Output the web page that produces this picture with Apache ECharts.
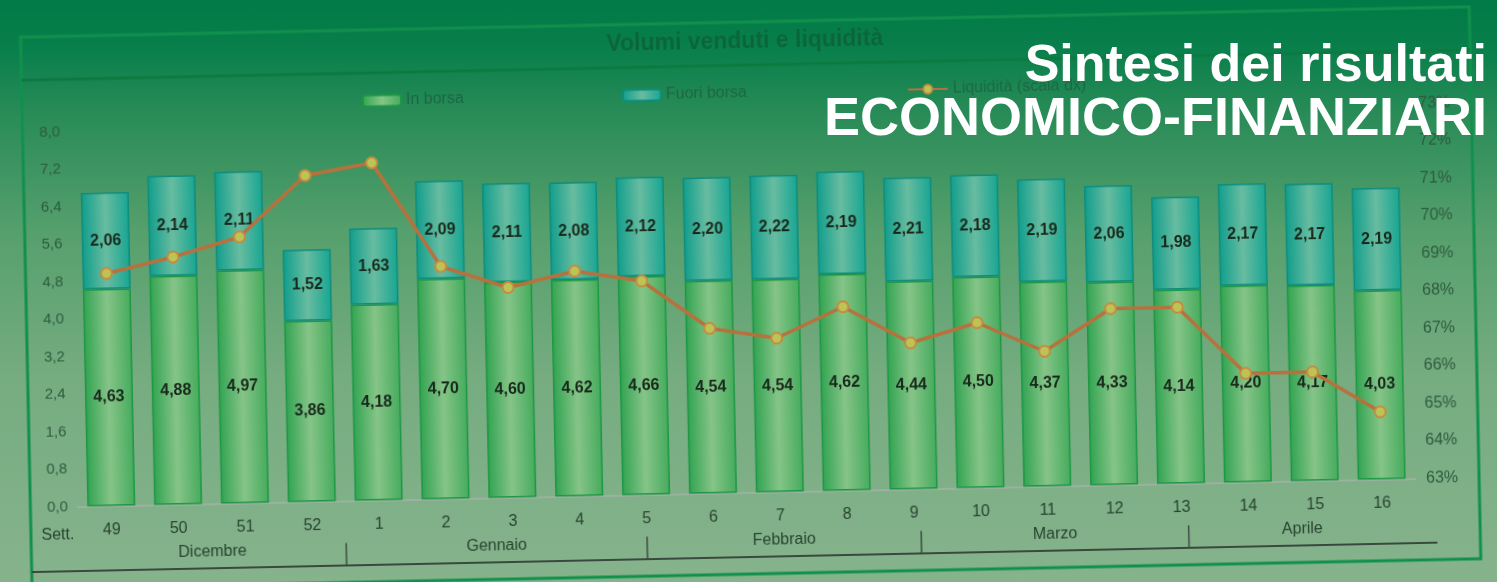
<!DOCTYPE html>
<html><head><meta charset="utf-8">
<script src="https://cdn.jsdelivr.net/npm/echarts/dist/echarts.min.js"></script>
<style>
html,body{margin:0;padding:0;width:1497px;height:582px;overflow:hidden;
background:linear-gradient(to bottom,#007a46 0%,#0a804c 9%,#2a8c58 20%,#56a06d 40%,#76ac80 65%,#86b38c 100%);}
#chart{position:absolute;left:0;top:0;width:1497px;height:582px;transform:rotate(-1.2deg);transform-origin:50% 50%;}
#overlay{position:absolute;left:0;top:0;width:1497px;height:582px;pointer-events:none;}
</style></head><body>
<div id="chart"></div><div id="overlay"></div>
<script>
const weeks = ['49','50','51','52','1','2','3','4','5','6','7','8','9','10','11','12','13','14','15','16'];
const inBorsa = [4.63,4.88,4.97,3.86,4.18,4.70,4.60,4.62,4.66,4.54,4.54,4.62,4.44,4.50,4.37,4.33,4.14,4.20,4.17,4.03];
const fuoriBorsa = [2.06,2.14,2.11,1.52,1.63,2.09,2.11,2.08,2.12,2.20,2.22,2.19,2.21,2.18,2.19,2.06,1.98,2.17,2.17,2.19];
const liquidita = [69.2,69.6,70.1,71.7,72.0,69.2,68.6,69.0,68.7,67.4,67.1,67.9,66.9,67.4,66.6,67.7,67.7,65.9,65.9,64.8];
const months = ['Dicembre','Gennaio','Febbraio','Marzo','Aprile'];
const monthStart = [-0.5,3.5,8.0,12.1,16.1];
const monthEnd = [3.5,8.0,12.1,16.1,19.5];
const seriesNames = ['In borsa','Fuori borsa','Liquidità (scala dx)'];
const chartTitle = 'Volumi venduti e liquidità';
const rowLabel = 'Sett.';
const overlayLines = ['Sintesi dei risultati','ECONOMICO-FINANZIARI'];

const FONT = '"Liberation Sans", Arial, sans-serif';
const fmt = (v, d) => Number(v).toFixed(d).replace('.', ',');
const grad = (a, b, c) => new echarts.graphic.LinearGradient(0,0,1,0,[{offset:0,color:a},{offset:0.5,color:b},{offset:1,color:c}]);
const labelStyle = {show:true, position:'inside', fontSize:16, fontWeight:'bold', color:'#18291c', fontFamily:FONT, textBorderWidth:0, formatter:p=>fmt(p.value,2)};
const legendText = {fontSize:16, color:'#1c6642', fontFamily:FONT};

const chart = echarts.init(document.getElementById('chart'), null, {renderer:'canvas'});
chart.setOption({
  animation:false,
  backgroundColor:'transparent',
  grid:{left:73.5, right:86, top:117.5, bottom:89.5, containLabel:false},
  legend:[
    {data:[seriesNames[0]], left:361, top:80, itemWidth:38, itemHeight:11, textStyle:legendText},
    {data:[seriesNames[1]], left:621, top:80, itemWidth:38, itemHeight:11, textStyle:legendText},
    {data:[seriesNames[2]], left:906, top:80, itemWidth:40, itemHeight:11, textStyle:legendText}
  ],
  xAxis:[
    {type:'category', data:weeks,
     axisLine:{lineStyle:{color:'#a3b3a6', width:1.5}},
     axisTick:{length:5, lineStyle:{color:'#a3b3a6'}},
     axisLabel:{margin:16, fontSize:16, color:'#27432f', fontFamily:FONT}},
    {type:'value', min:-0.5, max:19.5, show:false}
  ],
  yAxis:[
    {type:'value', min:0, max:8, interval:0.8, splitLine:{show:false}, axisLine:{show:false}, axisTick:{show:false},
     axisLabel:{margin:10, fontSize:15, color:'#2d5a3c', fontFamily:FONT, formatter:v=>fmt(v,1)}},
    {type:'value', min:63, max:73, interval:1, splitLine:{show:false}, axisLine:{show:false}, axisTick:{show:false},
     axisLabel:{margin:11, fontSize:16, color:'#2d5a3c', fontFamily:FONT, formatter:v=>Math.round(v)+'%'}}
  ],
  series:[
    {name:seriesNames[0], type:'bar', stack:'tot', data:inBorsa, barWidth:48,
     itemStyle:{color:grad('#30a350','#86c488','#44ab5c'), borderColor:'#1c9745', borderWidth:1.5},
     label:labelStyle},
    {name:seriesNames[1], type:'bar', stack:'tot', data:fuoriBorsa, barWidth:48,
     itemStyle:{color:grad('#0f9d8c','#68bca0','#16a592'), borderColor:'#0e8c7d', borderWidth:1.5},
     label:labelStyle},
    {name:seriesNames[2], type:'line', yAxisIndex:1, data:liquidita, z:5,
     symbol:'circle', symbolSize:11,
     lineStyle:{color:'#b8703c', width:3.5},
     itemStyle:{color:'#bcc458', borderColor:'#c68a3e', borderWidth:2}},
    {type:'custom', xAxisIndex:1, yAxisIndex:0, silent:true, z:3,
     data:months.map((m,i)=>[monthStart[i], monthEnd[i]]),
     encode:{x:[0,1]},
     renderItem:(params, api)=>{
       const s = api.coord([api.value(0), 0]);
       const e = api.coord([api.value(1), 0]);
       const base = s[1];
       const ch = [{type:'text', style:{x:(s[0]+e[0])/2, y:base+48, text:months[params.dataIndex], align:'center', verticalAlign:'middle', fill:'#27432f', font:'16px '+FONT}}];
       if (params.dataIndex > 0) ch.push({type:'line', shape:{x1:s[0], y1:base+42, x2:s[0], y2:base+64}, style:{stroke:'#3b4b40', lineWidth:1.5}});
       return {type:'group', children:ch};
     }}
  ],
  graphic:[
    {type:'rect', silent:true, z:-10, shape:{x:26, y:22, width:1449, height:552}, style:{fill:'none', stroke:'#10904c', lineWidth:3}},
    {type:'line', silent:true, shape:{x1:26, y1:65, x2:1475, y2:65}, style:{stroke:'#0c7a40', lineWidth:3}},
    {type:'line', silent:true, shape:{x1:26, y1:557, x2:1432, y2:557}, style:{stroke:'#39493d', lineWidth:2}},
    {type:'text', silent:true, x:53, y:521, style:{text:rowLabel, align:'center', verticalAlign:'middle', fill:'#27432f', font:'16px '+FONT}},
    {type:'text', silent:true, x:750, y:42, style:{text:chartTitle, align:'center', verticalAlign:'middle', fill:'#0b653a', font:'bold 23px '+FONT}}
  ]
});

const overlay = echarts.init(document.getElementById('overlay'), null, {renderer:'canvas'});
overlay.setOption({
  animation:false,
  backgroundColor:'transparent',
  graphic:[
    {type:'text', silent:true, x:1487, y:67, style:{text:overlayLines[0], align:'right', verticalAlign:'middle', fill:'#ffffff', font:'bold 52px '+FONT}},
    {type:'text', silent:true, x:1487, y:120, style:{text:overlayLines[1], align:'right', verticalAlign:'middle', fill:'#ffffff', font:'bold 54px '+FONT}}
  ]
});
</script></body></html>
